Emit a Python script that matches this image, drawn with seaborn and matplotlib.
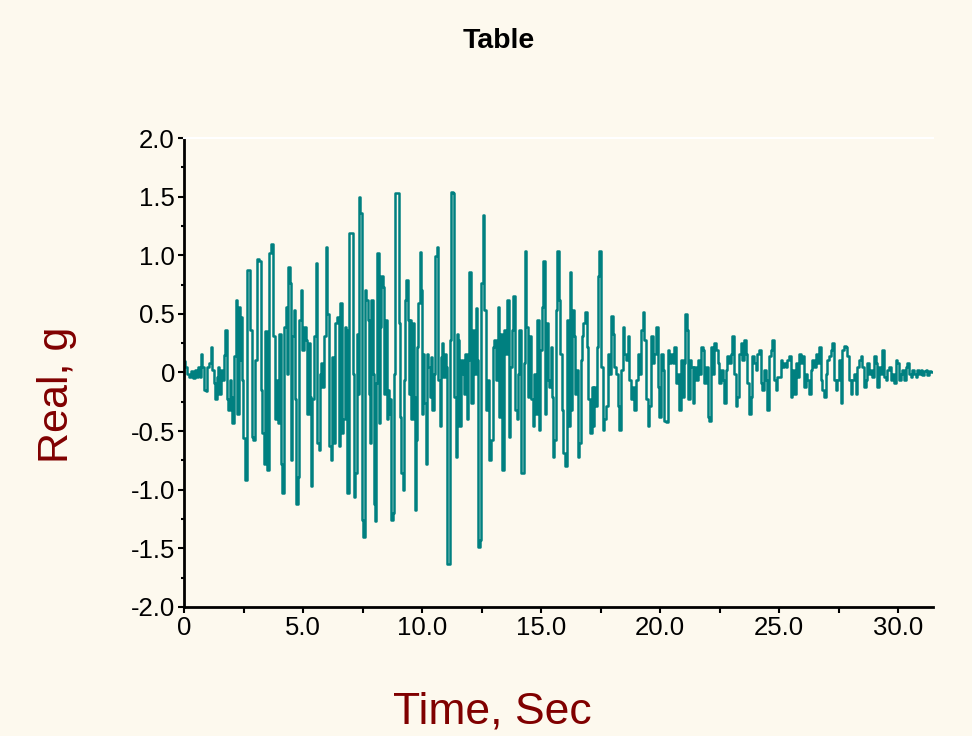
import matplotlib
matplotlib.use("Agg")
import matplotlib.pyplot as plt
from matplotlib.ticker import MultipleLocator, FixedLocator, FixedFormatter
import numpy as np
import pandas as pd
import seaborn as sns

# Acceleration record (time in seconds, acceleration in g)
time_s = [
    0.00, 0.08, 0.18, 0.25, 0.35, 0.42, 0.50, 0.57, 0.64, 0.70, 0.74, 0.81, 0.88, 0.95, 1.02, 1.09,
    1.16, 1.23, 1.30, 1.34, 1.40, 1.44, 1.51, 1.58, 1.65, 1.72, 1.76, 1.83, 1.90, 1.96, 2.00, 2.07,
    2.14, 2.21, 2.28, 2.32, 2.38, 2.42, 2.46, 2.52, 2.59, 2.67, 2.77, 2.81, 2.87, 2.94, 3.02, 3.09,
    3.19, 3.26, 3.33, 3.37, 3.44, 3.52, 3.59, 3.68, 3.80, 3.87, 3.94,
    3.96, 4.03, 4.10, 4.17, 4.24, 4.31, 4.36, 4.41, 4.48, 4.52, 4.59, 4.66, 4.69, 4.76, 4.83, 4.87,
    4.94, 5.01, 5.08, 5.15, 5.20, 5.27, 5.34, 5.36, 5.43, 5.50, 5.55, 5.62, 5.69, 5.74, 5.78, 5.85,
    5.92, 5.99, 6.06, 6.13, 6.20, 6.27, 6.34, 6.39, 6.46, 6.53, 6.60, 6.64, 6.72, 6.78, 6.83, 6.88,
    6.95, 7.05, 7.12, 7.16, 7.23, 7.28, 7.33, 7.38, 7.44, 7.49, 7.56, 7.61, 7.68, 7.75, 7.79, 7.83,
    7.89, 7.96, 8.00,
    8.03, 8.10, 8.14, 8.21, 8.26, 8.32, 8.38, 8.42, 8.49, 8.54, 8.59, 8.63, 8.68, 8.73, 8.80, 8.84,
    8.89, 8.98, 9.05, 9.10, 9.15, 9.22, 9.26, 9.31, 9.38, 9.43, 9.47, 9.52, 9.58, 9.64, 9.68, 9.73,
    9.78, 9.83, 9.87, 9.92, 9.96, 10.00, 10.06, 10.13, 10.17, 10.22, 10.29, 10.34, 10.41, 10.45,
    10.52, 10.57, 10.66, 10.71, 10.76, 10.80, 10.87, 10.92, 10.98, 11.04, 11.09, 11.15, 11.19, 11.26,
    11.33, 11.39, 11.43, 11.48, 11.54, 11.60, 11.67, 11.74, 11.79, 11.85, 11.90, 11.96, 12.00,
    12.09, 12.16, 12.23, 12.30, 12.34, 12.40, 12.44, 12.51, 12.58, 12.65, 12.72, 12.79, 12.86, 12.93,
    13.00, 13.07, 13.14, 13.21, 13.26, 13.32, 13.42, 13.49, 13.56, 13.60, 13.67, 13.74, 13.80, 13.87,
    13.94, 14.01, 14.05, 14.12, 14.19, 14.26, 14.30, 14.36, 14.41, 14.47, 14.54, 14.61, 14.68, 14.75,
    14.80, 14.86, 14.93, 15.00, 15.07, 15.13, 15.17, 15.24, 15.31, 15.38, 15.42, 15.49, 15.53, 15.59,
    15.66, 15.71, 15.78, 15.85, 15.91, 15.97,
    16.04, 16.11, 16.18, 16.23, 16.29, 16.33, 16.40, 16.44, 16.50, 16.57, 16.64, 16.69, 16.75, 16.81,
    16.88, 16.95, 17.02, 17.09, 17.16, 17.20, 17.25, 17.30, 17.37, 17.42, 17.49, 17.55, 17.62, 17.69,
    17.76, 17.83, 17.90, 17.97, 18.04, 18.11, 18.18, 18.25, 18.32, 18.39, 18.46, 18.53, 18.60, 18.67,
    18.74, 18.81, 18.88, 18.95, 19.02, 19.09, 19.16, 19.23, 19.30, 19.37, 19.44, 19.51, 19.58, 19.65,
    19.72, 19.79, 19.86, 19.93,
    20.00, 20.07, 20.14, 20.21, 20.28, 20.35, 20.42, 20.49, 20.56, 20.63, 20.70, 20.77, 20.84, 20.91,
    20.98, 21.05, 21.09, 21.16, 21.22, 21.27, 21.33, 21.40, 21.47, 21.54, 21.61, 21.68, 21.75, 21.82,
    21.89, 21.96, 22.03, 22.10, 22.17, 22.24, 22.31, 22.38, 22.45, 22.52, 22.59, 22.66, 22.73, 22.80,
    22.87, 22.94, 23.01, 23.08, 23.15, 23.22, 23.29, 23.36, 23.43, 23.50, 23.57, 23.64, 23.71, 23.78,
    23.85, 23.92, 23.99, 24.06, 24.13, 24.20, 24.27, 24.34, 24.41, 24.48, 24.55, 24.62, 24.69, 24.76,
    24.83, 24.90, 24.97, 25.04, 25.11, 25.18, 25.25, 25.32, 25.39, 25.46,
    25.53, 25.60, 25.67, 25.74, 25.81, 25.88, 25.95, 26.02, 26.09, 26.16, 26.23, 26.30, 26.37, 26.44,
    26.51, 26.58, 26.65, 26.72, 26.79, 26.86, 26.93, 27.00, 27.07, 27.14, 27.21, 27.28, 27.35, 27.42,
    27.49, 27.56, 27.63, 27.70, 27.77, 27.84, 27.91, 27.98, 28.05, 28.12, 28.19, 28.26, 28.33, 28.40,
    28.47, 28.54, 28.61, 28.68, 28.75, 28.82, 28.89, 28.96, 29.03, 29.10, 29.17, 29.24, 29.31, 29.38,
    29.45, 29.52, 29.59, 29.66, 29.73, 29.80, 29.87, 29.94, 30.01, 30.08, 30.15, 30.22, 30.29, 30.36,
    30.43, 30.50, 30.57, 30.64, 30.71, 30.78, 30.85, 30.92, 30.99, 31.06, 31.13, 31.20, 31.27, 31.34,
    31.46,
]

accel_g = [
    0.10, 0.05, -0.01, -0.04, 0.01, -0.05, 0.02, -0.04, 0.05, -0.04, 0.16, 0.05, -0.15, -0.16, 0.05, 0.08,
    0.22, 0.02, -0.09, -0.23, -0.04, 0.05, -0.18, 0.02, -0.06, 0.15, 0.36, -0.23, -0.32, -0.06, -0.21, -0.43,
    0.14, 0.62, -0.35, 0.56, 0.11, 0.47, -0.06, -0.56, -0.92, 0.87, 0.87, 0.36, -0.55, -0.58, 0.11, 0.97,
    0.95, -0.15, -0.52, -0.78, 0.35, -0.83, 1.02, 1.10, 0.31, -0.40, -0.06,
    -0.43, 0.33, -0.78, -1.03, 0.39, 0.56, -0.01, 0.90, 0.76, -0.75, 0.31, 0.53, -0.23, -1.12, -0.89, 0.45,
    0.70, 0.19, 0.39, 0.28, -0.35, 0.25, -0.21, -0.97, -0.23, 0.31, 0.93, -0.60, -0.66, -0.01, 0.08, -0.12,
    0.31, 1.07, 0.50, -0.63, -0.75, 0.13, -0.60, 0.42, 0.47, -0.63, 0.59, -0.52, -0.40, 0.39, 0.36, -1.03,
    1.19, 1.19, -0.01, -1.06, -0.86, 0.33, -0.18, 1.50, 1.36, -1.26, -1.40, 0.70, 0.62, 0.45, -0.18, -0.60,
    0.62, -0.01, -1.12,
    -1.27, -0.09, 1.02, -0.43, 0.39, 0.82, 0.73, -0.18, 0.45, -0.40, -0.15, -0.35, -0.23, -1.26, -1.20, -0.01,
    1.53, 1.53, 0.42, -0.38, -0.86, -1.00, -0.06, 0.62, 0.79, 0.45, -0.18, 0.45, -0.40, 0.42, -0.21, -1.17,
    -0.58, 0.22, 0.59, 1.03, 0.70, -0.35, 0.16, -0.26, -0.78, 0.16, 0.05, -0.21, 0.13, -0.32,
    -0.01, 0.99, 1.07, -0.06, -0.46, 0.13, 0.25, -0.04, 0.16, 0.05, -1.63, -1.63, 0.28, 1.54,
    1.53, -0.21, -0.72, 0.33, 0.28, -0.46, 0.11, -0.01, -0.18, 0.16, -0.40, 0.11, 0.86,
    -0.26, 0.36, -0.01, 0.55, 0.11, -1.49, -1.43, 0.76, 1.34, 0.53, -0.32, -0.06, -0.75, -0.58,
    0.22, 0.28, -0.06, 0.56, -0.38, 0.33, -0.83, 0.36, 0.16, 0.62, -0.55, 0.05, 0.36, 0.65,
    -0.32, -0.40, -0.01, 0.36, -0.86, -0.86, 0.08, 1.04, 0.39, -0.21, 0.31, -0.23, -0.46, -0.01,
    -0.35, 0.45, -0.49, 0.19, 0.56, 0.95, -0.35, 0.42, -0.06, -0.12, 0.22, -0.21, -0.72, -0.58,
    0.53, 1.04, 0.62, 0.16, -0.32, -0.69,
    -0.80, 0.45, -0.46, 0.86, -0.32, 0.53, 0.31, -0.18, 0.02, -0.72, -0.60, 0.11, 0.31, 0.42,
    0.52, 0.22, -0.23, -0.52, -0.12, -0.46, -0.12, -0.29, 0.22, 0.82, 1.04, 0.05, -0.49, -0.40,
    -0.29, 0.16, -0.01, 0.48, 0.33, 0.05, -0.01, -0.29, -0.49, 0.02, 0.39, 0.16, 0.11, 0.31,
    -0.06, -0.23, -0.12, -0.32, -0.06, 0.16, -0.01, 0.36, 0.52, 0.28, -0.23, -0.46, -0.29, 0.31,
    0.08, 0.16, 0.39, -0.12,
    -0.38, 0.16, 0.02, -0.41, -0.42, 0.19, 0.08, 0.16, 0.08, 0.22, -0.09, -0.01, -0.32, 0.11,
    -0.21, 0.08, 0.50, 0.36, -0.23, 0.11, 0.05, -0.26, 0.05, -0.06, 0.11, -0.01, 0.22, 0.19,
    -0.09, 0.05, -0.38, -0.41, 0.22, -0.01, 0.25, 0.19, 0.08, -0.09, 0.02, -0.06, -0.26, 0.02,
    0.14, 0.08, 0.16, 0.31, -0.01, -0.29, -0.21, 0.16, 0.25, 0.11, 0.28, 0.16, -0.09, -0.35,
    -0.21, 0.14, 0.08, 0.02, 0.16, 0.19, -0.09, -0.15, 0.02, -0.06, -0.32, 0.14, 0.19, 0.28,
    -0.06, -0.15, -0.04, -0.04, 0.11, 0.05, 0.08, 0.05, 0.11, 0.14,
    -0.21, 0.02, -0.18, 0.08, -0.04, 0.16, 0.08, 0.14, -0.12, -0.01, -0.06, -0.18, 0.02, 0.11,
    0.05, 0.16, 0.08, 0.22, -0.06, -0.15, -0.21, -0.01, 0.11, 0.14, 0.19, 0.25, -0.06, -0.15,
    -0.06, 0.11, -0.26, 0.19, 0.23, 0.22, 0.14, -0.06, -0.18, -0.06, -0.01, -0.18, 0.05, 0.11,
    0.14, 0.05, -0.12, -0.06, 0.08, -0.01, 0.02, -0.04, 0.14, 0.08, -0.12, 0.05, -0.01, 0.19,
    -0.04, -0.06, 0.02, 0.05, -0.06, -0.01, -0.09, 0.11, 0.08, -0.06, -0.01, 0.02, -0.06, 0.05,
    0.08, -0.01, -0.04, 0.02, -0.01, -0.04, 0.02, -0.01, 0.02, -0.02, 0.01, 0.02, -0.02, 0.01,
    0.00,
]

x_ticks = [0, 5, 10, 15, 20, 25, 30]
x_tick_labels = ["0", "5.0", "10.0", "15.0", "20.0", "25.0", "30.0"]
y_ticks = [2.0, 1.5, 1.0, 0.5, 0.0, -0.5, -1.0, -1.5, -2.0]
y_tick_labels = ["2.0", "1.5", "1.0", "0.5", "0", "-0.5", "-1.0", "-1.5", "-2.0"]

BG = "#fdf9ee"
LINE = "#008080"
LABEL_RED = "#800000"

sns.set_theme(style="ticks")
plt.rcParams["font.family"] = ["Liberation Sans", "DejaVu Sans"]

df = pd.DataFrame({"Time": time_s, "Accel": accel_g})

fig = plt.figure(figsize=(9.72, 7.36), dpi=100, facecolor=BG)
ax = fig.add_axes([0.1893, 0.1753, 0.7706, 0.6372])
ax.set_facecolor(BG)

# Sampled record drawn as a stepped trace
sns.lineplot(data=df, x="Time", y="Accel", ax=ax, sort=False, estimator=None,
             color=LINE, linewidth=1.8, drawstyle="steps-mid")

ax.set_xlim(0, 31.47)
ax.set_ylim(-2.0, 2.0)

ax.xaxis.set_major_locator(FixedLocator(x_ticks))
ax.xaxis.set_major_formatter(FixedFormatter(x_tick_labels))
ax.xaxis.set_minor_locator(MultipleLocator(2.5))
ax.yaxis.set_major_locator(FixedLocator(y_ticks))
ax.yaxis.set_major_formatter(FixedFormatter(y_tick_labels))
ax.yaxis.set_minor_locator(MultipleLocator(0.25))

ax.tick_params(axis="both", which="major", direction="out", length=4.5, width=1.5,
               color="black", labelsize=18.5, labelcolor="black", pad=2)
ax.tick_params(axis="x", which="minor", direction="out", length=4.5, width=1.5, color="black")
ax.tick_params(axis="y", which="minor", direction="out", length=2.2, width=1.5, color="black")

for side in ("left", "bottom"):
    ax.spines[side].set_color("black")
    ax.spines[side].set_linewidth(2)
ax.spines["right"].set_visible(False)
ax.spines["top"].set_color("white")
ax.spines["top"].set_linewidth(1.5)

ax.set_xlabel("")
ax.set_ylabel("")

fig.text(0.513, 0.944, "Table", ha="center", va="center", fontsize=20.5,
         fontweight="bold", color="black")
fig.text(0.059, 0.463, "Real, g", ha="center", va="center", rotation=90,
         fontsize=31, color=LABEL_RED)
fig.text(0.507, 0.033, "Time, Sec", ha="center", va="center",
         fontsize=32, color=LABEL_RED)

fig.savefig("out.png", dpi=100, facecolor=BG)
